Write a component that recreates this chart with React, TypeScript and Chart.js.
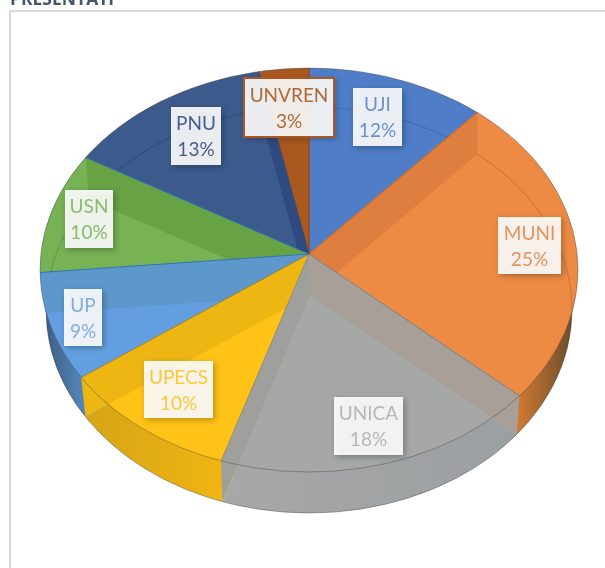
import React, { useEffect, useRef } from "react";
import Chart from "chart.js/auto";

const categories = ["UJI", "MUNI", "UNICA", "UPECS", "UP", "USN", "PNU", "UNVREN"];
const shares = [11.5, 25.3, 18.1, 10.1, 8.6, 9.9, 13.4, 3.2];

const faceColors = ["#4F7DC7", "#ED8B45", "#A6A7A7", "#FFC216", "#639FE0", "#77B255", "#3D5A8C", "#A9581F"];
const wallColors = ["#DF7F3F", "#A89F98", "#9F9F9C", "#EDB613", "#5C98CB", "#67A344", "#2E4A7E", "#A9581F"];
const rayColors = ["#B5662C", "#7F7F7F", "#8C8C80", "#A5862A", "#2E75B6", "#2E75B6", "#2F4A80", "#8A4A1D"];
const rimStart = ["#3F5F9A", "#6C4C2C", "#A8A8A8", "#D6A416", "#3E5F85", "#3E5F85", "#28406A", "#7A4A20"];
const rimEnd = ["#3F5F9A", "#D27B32", "#9A9FA1", "#EFB512", "#5588BD", "#5588BD", "#28406A", "#7A4A20"];
const textColors = ["#6A90CE", "#E4935C", "#B7B7B7", "#F9C83F", "#80ADDF", "#89BC6E", "#485E8F", "#AD6A38"];

const labelBoxes = [
  [353, 88, 49, 58],
  [498, 217, 63, 57],
  [334, 397, 69, 58],
  [144, 361, 69, 57],
  [64, 289, 38, 57],
  [65, 190, 48, 58],
  [171, 107, 50, 58],
  [244, 78, 90, 59],
];

const SQUASH = 0.74;
const topFace = { ax: 309, ay: 254, cx: 309, cy: 270, rx: 269, ry: 202 };
const baseFace = { ax: 310, ay: 295, cx: 309, cy: 310, rx: 263, ry: 203 };
type Face = typeof topFace;

function hit(f: Face, a: number) {
  const dx = Math.cos(a);
  const dy = SQUASH * Math.sin(a);
  const px = (f.ax - f.cx) / f.rx;
  const py = (f.ay - f.cy) / f.ry;
  const qx = dx / f.rx;
  const qy = dy / f.ry;
  const A = qx * qx + qy * qy;
  const B = 2 * (px * qx + py * qy);
  const C = px * px + py * py - 1;
  const t = (-B + Math.sqrt(B * B - 4 * A * C)) / (2 * A);
  return { x: f.ax + t * dx, y: f.ay + t * dy };
}

function sector(ctx: CanvasRenderingContext2D, f: Face, a0: number, a1: number) {
  const h0 = hit(f, a0);
  const h1 = hit(f, a1);
  const t0 = Math.atan2((h0.y - f.cy) / f.ry, (h0.x - f.cx) / f.rx);
  const t1 = Math.atan2((h1.y - f.cy) / f.ry, (h1.x - f.cx) / f.rx);
  ctx.beginPath();
  ctx.moveTo(f.ax, f.ay);
  ctx.lineTo(h0.x, h0.y);
  ctx.ellipse(f.cx, f.cy, f.rx, f.ry, 0, t0, t1, false);
  ctx.closePath();
}

const piePlugin = {
  id: "tiltedPie",
  beforeDraw(chart: any) {
    const ctx: CanvasRenderingContext2D = chart.ctx;
    ctx.save();
    ctx.fillStyle = "#ffffff";
    ctx.fillRect(0, 0, chart.width, chart.height);
    ctx.strokeStyle = "#D9D9D9";
    ctx.lineWidth = 2;
    ctx.beginPath();
    ctx.moveTo(10, 600);
    ctx.lineTo(10, 11);
    ctx.lineTo(640, 11);
    ctx.stroke();
    ctx.fillStyle = "#44546A";
    ctx.font = "bold 17.5px 'Open Sans'";
    ctx.textAlign = "left";
    ctx.textBaseline = "alphabetic";
    ctx.fillText("PRESENTATI", 10, 5);
    ctx.restore();
  },
  beforeDatasetsDraw(chart: any) {
    const ctx: CanvasRenderingContext2D = chart.ctx;
    const arcs = chart.getDatasetMeta(0).data;
    ctx.save();
    arcs.forEach((el: any, i: number) => {
      const h0 = hit(baseFace, el.startAngle);
      const h1 = hit(baseFace, el.endAngle);
      const spansRight = el.startAngle < 0 && el.endAngle > 0;
      const x0 = spansRight ? baseFace.cx + baseFace.rx : h0.x;
      const g = ctx.createLinearGradient(x0, 0, h1.x, 0);
      if (spansRight) {
        g.addColorStop(0, rimStart[i]);
        g.addColorStop(1, rimEnd[i]);
      } else {
        g.addColorStop(0, rimEnd[i]);
        g.addColorStop(1, rimStart[i]);
      }
      ctx.fillStyle = g;
      sector(ctx, baseFace, el.startAngle, el.endAngle);
      ctx.fill();
    });
    ctx.strokeStyle = "rgba(70,70,70,0.45)";
    ctx.lineWidth = 1;
    ctx.beginPath();
    ctx.ellipse(baseFace.cx, baseFace.cy, baseFace.rx, baseFace.ry, 0, 0, Math.PI);
    ctx.stroke();
    ctx.restore();
  },
  beforeDatasetDraw(chart: any) {
    const ctx: CanvasRenderingContext2D = chart.ctx;
    const el = chart.getDatasetMeta(0).data[0];
    const s = 1.2;
    ctx.save();
    ctx.beginPath();
    ctx.ellipse(topFace.cx, topFace.cy, topFace.rx, topFace.ry, 0, 0, Math.PI * 2);
    ctx.clip();
    ctx.translate(topFace.ax, topFace.ay);
    ctx.scale(s, s * SQUASH);
    ctx.translate(-el.x, -el.y);
  },
  afterDatasetDraw(chart: any) {
    chart.ctx.restore();
  },
  afterDatasetsDraw(chart: any) {
    const ctx: CanvasRenderingContext2D = chart.ctx;
    const arcs = chart.getDatasetMeta(0).data;
    ctx.save();
    // far edge of the lower face, seen through the top
    ctx.save();
    ctx.beginPath();
    ctx.ellipse(topFace.cx, topFace.cy, topFace.rx, topFace.ry, 0, 0, Math.PI * 2);
    ctx.clip();
    ctx.strokeStyle = "rgba(0,0,0,0.13)";
    ctx.lineWidth = 1.2;
    ctx.beginPath();
    ctx.ellipse(baseFace.cx, baseFace.cy, baseFace.rx, baseFace.ry, 0, Math.PI * 0.98, Math.PI * 2.02);
    ctx.stroke();
    ctx.restore();
    // radial inner walls: each shows through the slice lying below its edge, and on the rim
    arcs.forEach((el: any, i: number) => {
      const a = el.endAngle;
      const owner = Math.cos(a) > 0 ? arcs[(i + 1) % arcs.length] : el;
      const t = hit(topFace, a);
      const b = hit(baseFace, a);
      const quad = () => {
        ctx.fillStyle = wallColors[i];
        ctx.beginPath();
        ctx.moveTo(topFace.ax, topFace.ay);
        ctx.lineTo(t.x, t.y);
        ctx.lineTo(b.x, b.y);
        ctx.lineTo(baseFace.ax, baseFace.ay);
        ctx.closePath();
        ctx.fill();
      };
      ctx.save();
      sector(ctx, topFace, owner.startAngle, owner.endAngle);
      ctx.clip();
      quad();
      ctx.restore();
      ctx.save();
      ctx.beginPath();
      ctx.rect(0, 0, chart.width, chart.height);
      ctx.ellipse(topFace.cx, topFace.cy, topFace.rx, topFace.ry, 0, 0, Math.PI * 2);
      ctx.clip("evenodd");
      quad();
      ctx.restore();
    });
    // rim of the top face
    ctx.strokeStyle = "rgba(60,60,60,0.4)";
    ctx.lineWidth = 1;
    ctx.beginPath();
    ctx.ellipse(topFace.cx, topFace.cy, topFace.rx, topFace.ry, 0, 0, Math.PI * 2);
    ctx.stroke();
    // slice boundaries
    arcs.forEach((el: any, i: number) => {
      const t = hit(topFace, el.endAngle);
      ctx.strokeStyle = rayColors[i];
      ctx.lineWidth = 1;
      ctx.beginPath();
      ctx.moveTo(topFace.ax, topFace.ay);
      ctx.lineTo(t.x, t.y);
      ctx.stroke();
    });
    // data labels
    categories.forEach((name, i) => {
      const [x, y, w, h] = labelBoxes[i];
      ctx.save();
      ctx.shadowColor = "rgba(0,0,0,0.3)";
      ctx.shadowBlur = 6;
      ctx.shadowOffsetX = 2;
      ctx.shadowOffsetY = 2;
      ctx.fillStyle = "rgba(255,255,255,0.9)";
      ctx.fillRect(x, y, w, h);
      ctx.restore();
      if (name === "UNVREN") {
        ctx.strokeStyle = "#A9581F";
        ctx.lineWidth = 2;
        ctx.strokeRect(x, y, w, h);
      }
      ctx.fillStyle = textColors[i];
      ctx.font = "19px Lato";
      ctx.textAlign = "center";
      ctx.textBaseline = "middle";
      ctx.fillText(name, x + w / 2, y + h / 2 - 12);
      ctx.fillText(Math.round(shares[i]) + "%", x + w / 2, y + h / 2 + 14);
    });
    ctx.restore();
  },
};

export default function App() {
  const ref = useRef<HTMLCanvasElement | null>(null);
  useEffect(() => {
    const chart = new Chart(ref.current as HTMLCanvasElement, {
      type: "pie",
      data: {
        labels: categories,
        datasets: [
          {
            data: shares,
            backgroundColor: faceColors,
            borderColor: faceColors,
            borderWidth: 1,
            clip: false,
          } as any,
        ],
      },
      options: {
        animation: false,
        responsive: false,
        events: [],
        layout: { padding: 0 },
        plugins: { legend: { display: false }, tooltip: { enabled: false }, title: { display: false } },
      },
      plugins: [piePlugin as any],
    });
    return () => chart.destroy();
  }, []);
  return (
    <canvas
      ref={ref}
      width={605}
      height={568}
      style={{ position: "fixed", left: 0, top: 0, width: 605, height: 568 }}
    />
  );
}
